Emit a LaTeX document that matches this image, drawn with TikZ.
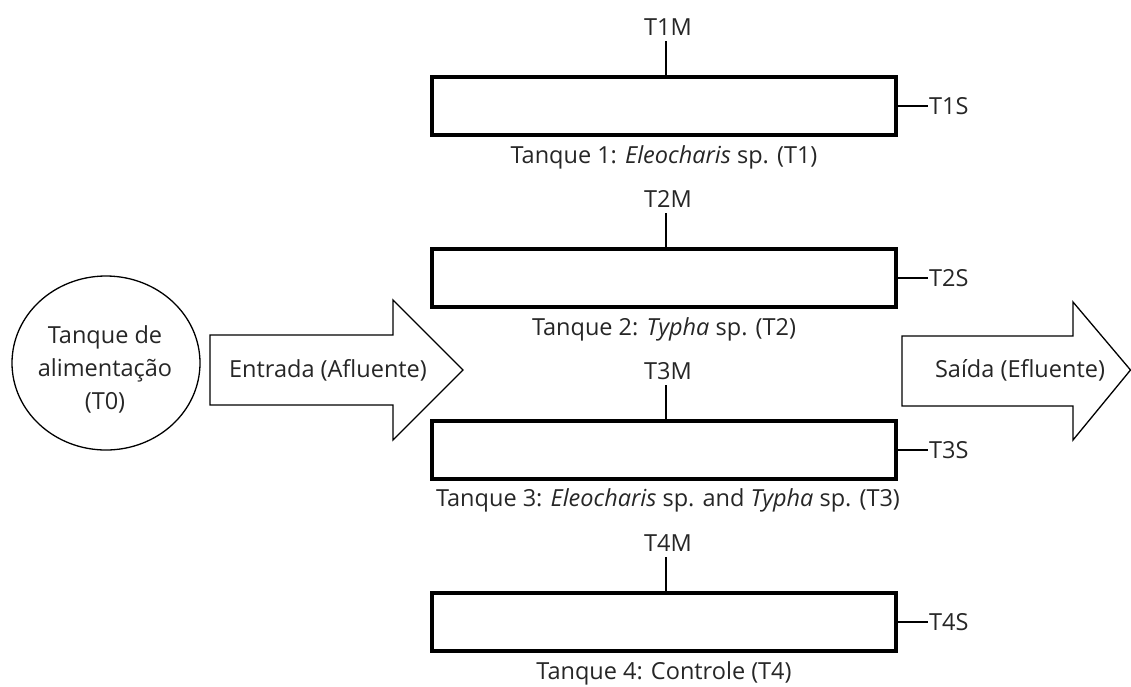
\documentclass[tikz,border=0pt]{standalone}
\usepackage{fontspec}
\setmainfont{Open Sans}
\usetikzlibrary{shapes.geometric}
\tikzset{
  tank/.style={draw, line width=3.6pt, minimum width=464pt, minimum height=58pt, inner sep=0pt},
  lbl/.style={font=\fontsize{23.5}{33}\selectfont, inner sep=1pt, text=black!85},
  tick/.style={line width=1.6pt},
  arr/.style={draw, line width=1.3pt, fill=white},
}
\begin{document}
\begin{tikzpicture}[x=1pt,y=-1pt]
\useasboundingbox (0,0) rectangle (1131,686);
% tanks
\foreach \i/\y in {1/106,2/278,3/450,4/622}{
  \node[tank] (T\i) at (664,\y) {};
  \node[lbl] (M\i) at (668,\y-79) {T\i M};
  \node[lbl,anchor=west] (S\i) at (928,\y) {T\i S};
  \draw[tick] (T\i.north -| 666,0) -- ++(0,-34) coordinate (m\i);
  \draw[tick] (T\i.east) -- (S\i.west);
}
\node[lbl] (C1) at (664,157) {Tanque 1: \textit{Eleocharis} sp. (T1)};
\node[lbl] (C2) at (664,329) {Tanque 2: \textit{Typha} sp. (T2)};
\node[lbl] (C3) at (668,500) {Tanque 3: \textit{Eleocharis} sp. and \textit{Typha} sp. (T3)};
\node[lbl] (C4) at (664,673) {Tanque 4: Controle (T4)};
% feed tank
\node[draw, ellipse, line width=1.3pt, minimum width=188pt, minimum height=174pt, inner sep=0pt] (T0) at (106,363) {};
\node[lbl, align=center] (T0txt) at (105,369) {Tanque de\\alimentação\\(T0)};
% inlet arrow
\draw[arr] (210,335) -- (393,335) -- (393,300) -- (463,370) -- (393,440) -- (393,405) -- (210,405) -- cycle;
\node[lbl] (IN) at (328,370) {Entrada (Afluente)};
% outlet arrow
\draw[arr] (902,336) -- (1073,336) -- (1073,302) -- (1130.5,370) -- (1073,440) -- (1073,406) -- (902,406) -- cycle;
\node[lbl] (OUT) at (1020,370) {Saída (Efluente)};
\end{tikzpicture}
\end{document}
